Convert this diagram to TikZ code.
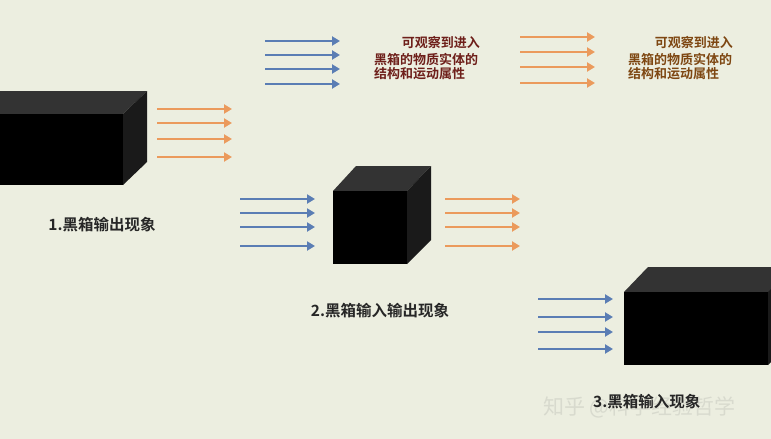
\documentclass[tikz,border=0pt]{standalone}
\usepackage{fontspec}
\newfontfamily\cjk{Noto Sans CJK SC}[BoldFont={* Bold}]
\usetikzlibrary{arrows.meta}
\definecolor{bg}{HTML}{ECEEE0}
\definecolor{inblue}{HTML}{5A7DB4}
\definecolor{outorange}{HTML}{EB9A5C}
\definecolor{topface}{HTML}{333333}
\definecolor{sideface}{HTML}{1A1A1A}
\definecolor{lbl}{HTML}{262626}
\definecolor{noteA}{HTML}{6E1F1A}
\definecolor{noteB}{HTML}{7E4712}
\definecolor{wmcol}{HTML}{D8DACE}
\tikzset{
  flow/.style={line width=2.6pt, -{Triangle[length=8pt,width=9pt]}},
  inflow/.style={flow, draw=inblue},
  outflow/.style={flow, draw=outorange},
  frontface/.style={fill=black},
  topfc/.style={fill=topface},
  sidefc/.style={fill=sideface},
  caption/.style={font=\cjk\bfseries\fontsize{15.5}{18}\selectfont, text=lbl, inner sep=0pt},
  note/.style={font=\cjk\bfseries\fontsize{13}{14}\selectfont, inner sep=0pt},
  wmark/.style={font=\cjk\fontsize{21}{24}\selectfont, text=wmcol, inner sep=0pt}
}
\begin{document}
\begin{tikzpicture}[x=1pt,y=-1pt]
\useasboundingbox (0,0) rectangle (771,439);
\fill[bg] (0,0) rectangle (771,439);

% ---- box 1 (wide, cut at left) ----
\fill[topfc] (0,91) -- (147,91) -- (123,114) -- (0,114) -- cycle;
\fill[sidefc] (123,114) -- (147,91) -- (147,162) -- (123,185) -- cycle;
\fill[frontface] (0,114) rectangle (123,185);
\foreach \i/\y in {1/109,2/123,3/139,4/157}{
  \coordinate (o1s\i) at (157,\y); \coordinate (o1e\i) at (232,\y);
  \draw[outflow] (o1s\i) -- (o1e\i);
}
\node[caption] (cap1) at (102,225) {1.黑箱输出现象};

% ---- top row: annotations ----
\foreach \i/\y in {1/41,2/55,3/69,4/84}{
  \coordinate (tbs\i) at (265,\y); \coordinate (tbe\i) at (340,\y);
  \draw[inflow] (tbs\i) -- (tbe\i);
}
\node[note, text=noteA, anchor=east] (na1) at (480,43) {可观察到进入};
\node[note, text=noteA, anchor=west] (na2) at (374,60) {黑箱的物质实体的};
\node[note, text=noteA, anchor=west] (na3) at (374,74) {结构和运动属性};

\foreach \i/\y in {1/37,2/52,3/67,4/83}{
  \coordinate (tos\i) at (520,\y); \coordinate (toe\i) at (595,\y);
  \draw[outflow] (tos\i) -- (toe\i);
}
\node[note, text=noteB, anchor=east] (nb1) at (733,43) {可观察到进入};
\node[note, text=noteB, anchor=west] (nb2) at (628,60) {黑箱的物质实体的};
\node[note, text=noteB, anchor=west] (nb3) at (628,74) {结构和运动属性};

% ---- box 2 (cube) ----
\fill[topfc] (333,191) -- (356,166) -- (431,166) -- (407,191) -- cycle;
\fill[sidefc] (407,191) -- (431,166) -- (431,240) -- (407,264) -- cycle;
\fill[frontface] (333,191) rectangle (407,264);
\foreach \i/\y in {1/199,2/213,3/227,4/246}{
  \coordinate (i2s\i) at (240,\y); \coordinate (i2e\i) at (315,\y);
  \draw[inflow] (i2s\i) -- (i2e\i);
  \coordinate (o2s\i) at (445,\y); \coordinate (o2e\i) at (520,\y);
  \draw[outflow] (o2s\i) -- (o2e\i);
}
\node[caption] (cap2) at (380,311) {2.黑箱输入输出现象};

% ---- box 3 (wide, cut at right) ----
\fill[topfc] (624,292) -- (648,267) -- (771,267) -- (771,292) -- cycle;
\fill[frontface] (624,292) rectangle (768,365);
\fill[sidefc] (768,292) -- (771,289) -- (771,362) -- (768,365) -- cycle;
\foreach \i/\y in {1/299,2/317,3/332,4/349}{
  \coordinate (i3s\i) at (538,\y); \coordinate (i3e\i) at (613,\y);
  \draw[inflow] (i3s\i) -- (i3e\i);
}
\node[wmark, anchor=west] (wm) at (543,407) {知乎 @科学经验哲学};
\node[caption, anchor=west] (cap3) at (593,402) {3.黑箱输入现象};
\end{tikzpicture}
\end{document}
